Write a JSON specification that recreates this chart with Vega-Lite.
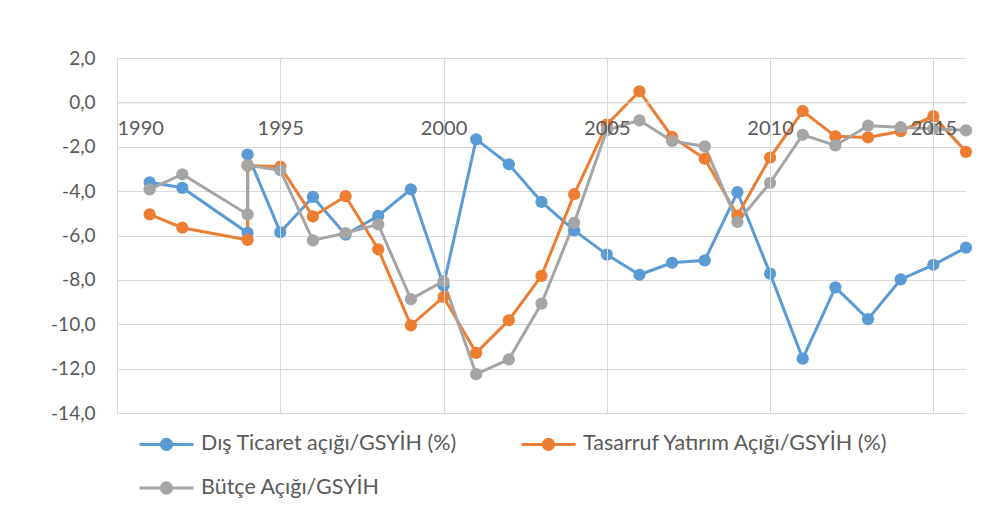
{
  "$schema": "https://vega.github.io/schema/vega-lite/v6.json",
  "width": 849,
  "height": 355,
  "autosize": "none",
  "padding": {"left": 117, "top": 58, "right": 29, "bottom": 109},
  "background": "white",
  "config": {
    "view": {"stroke": null},
    "font": "Lato",
    "locale": {"number": {"decimal": ",", "thousands": ".", "grouping": [3], "currency": ["", ""], "minus": "-"}}
  },
  "data": {
    "values": [
      {"year": 1991, "value": -3.6, "series": "Dış Ticaret açığı/GSYİH (%)"},
      {"year": 1992, "value": -3.85, "series": "Dış Ticaret açığı/GSYİH (%)"},
      {"year": 1994, "value": -5.88, "series": "Dış Ticaret açığı/GSYİH (%)"},
      {"year": 1994, "value": -2.35, "series": "Dış Ticaret açığı/GSYİH (%)"},
      {"year": 1995, "value": -5.85, "series": "Dış Ticaret açığı/GSYİH (%)"},
      {"year": 1996, "value": -4.26, "series": "Dış Ticaret açığı/GSYİH (%)"},
      {"year": 1997, "value": -5.96, "series": "Dış Ticaret açığı/GSYİH (%)"},
      {"year": 1998, "value": -5.12, "series": "Dış Ticaret açığı/GSYİH (%)"},
      {"year": 1999, "value": -3.92, "series": "Dış Ticaret açığı/GSYİH (%)"},
      {"year": 2000, "value": -8.25, "series": "Dış Ticaret açığı/GSYİH (%)"},
      {"year": 2001, "value": -1.67, "series": "Dış Ticaret açığı/GSYİH (%)"},
      {"year": 2002, "value": -2.79, "series": "Dış Ticaret açığı/GSYİH (%)"},
      {"year": 2003, "value": -4.49, "series": "Dış Ticaret açığı/GSYİH (%)"},
      {"year": 2004, "value": -5.77, "series": "Dış Ticaret açığı/GSYİH (%)"},
      {"year": 2005, "value": -6.86, "series": "Dış Ticaret açığı/GSYİH (%)"},
      {"year": 2006, "value": -7.77, "series": "Dış Ticaret açığı/GSYİH (%)"},
      {"year": 2007, "value": -7.23, "series": "Dış Ticaret açığı/GSYİH (%)"},
      {"year": 2008, "value": -7.12, "series": "Dış Ticaret açığı/GSYİH (%)"},
      {"year": 2009, "value": -4.05, "series": "Dış Ticaret açığı/GSYİH (%)"},
      {"year": 2010, "value": -7.72, "series": "Dış Ticaret açığı/GSYİH (%)"},
      {"year": 2011, "value": -11.55, "series": "Dış Ticaret açığı/GSYİH (%)"},
      {"year": 2012, "value": -8.34, "series": "Dış Ticaret açığı/GSYİH (%)"},
      {"year": 2013, "value": -9.77, "series": "Dış Ticaret açığı/GSYİH (%)"},
      {"year": 2014, "value": -7.98, "series": "Dış Ticaret açığı/GSYİH (%)"},
      {"year": 2015, "value": -7.32, "series": "Dış Ticaret açığı/GSYİH (%)"},
      {"year": 2016, "value": -6.55, "series": "Dış Ticaret açığı/GSYİH (%)"},
      {"year": 1991, "value": -5.05, "series": "Tasarruf Yatırım Açığı/GSYİH (%)"},
      {"year": 1992, "value": -5.65, "series": "Tasarruf Yatırım Açığı/GSYİH (%)"},
      {"year": 1994, "value": -6.2, "series": "Tasarruf Yatırım Açığı/GSYİH (%)"},
      {"year": 1994, "value": -2.85, "series": "Tasarruf Yatırım Açığı/GSYİH (%)"},
      {"year": 1995, "value": -2.9, "series": "Tasarruf Yatırım Açığı/GSYİH (%)"},
      {"year": 1996, "value": -5.14, "series": "Tasarruf Yatırım Açığı/GSYİH (%)"},
      {"year": 1997, "value": -4.23, "series": "Tasarruf Yatırım Açığı/GSYİH (%)"},
      {"year": 1998, "value": -6.62, "series": "Tasarruf Yatırım Açığı/GSYİH (%)"},
      {"year": 1999, "value": -10.05, "series": "Tasarruf Yatırım Açığı/GSYİH (%)"},
      {"year": 2000, "value": -8.77, "series": "Tasarruf Yatırım Açığı/GSYİH (%)"},
      {"year": 2001, "value": -11.29, "series": "Tasarruf Yatırım Açığı/GSYİH (%)"},
      {"year": 2002, "value": -9.82, "series": "Tasarruf Yatırım Açığı/GSYİH (%)"},
      {"year": 2003, "value": -7.82, "series": "Tasarruf Yatırım Açığı/GSYİH (%)"},
      {"year": 2004, "value": -4.14, "series": "Tasarruf Yatırım Açığı/GSYİH (%)"},
      {"year": 2005, "value": -1.0, "series": "Tasarruf Yatırım Açığı/GSYİH (%)"},
      {"year": 2006, "value": 0.5, "series": "Tasarruf Yatırım Açığı/GSYİH (%)"},
      {"year": 2007, "value": -1.56, "series": "Tasarruf Yatırım Açığı/GSYİH (%)"},
      {"year": 2008, "value": -2.54, "series": "Tasarruf Yatırım Açığı/GSYİH (%)"},
      {"year": 2009, "value": -5.1, "series": "Tasarruf Yatırım Açığı/GSYİH (%)"},
      {"year": 2010, "value": -2.49, "series": "Tasarruf Yatırım Açığı/GSYİH (%)"},
      {"year": 2011, "value": -0.39, "series": "Tasarruf Yatırım Açığı/GSYİH (%)"},
      {"year": 2012, "value": -1.53, "series": "Tasarruf Yatırım Açığı/GSYİH (%)"},
      {"year": 2013, "value": -1.58, "series": "Tasarruf Yatırım Açığı/GSYİH (%)"},
      {"year": 2014, "value": -1.3, "series": "Tasarruf Yatırım Açığı/GSYİH (%)"},
      {"year": 2015, "value": -0.62, "series": "Tasarruf Yatırım Açığı/GSYİH (%)"},
      {"year": 2016, "value": -2.23, "series": "Tasarruf Yatırım Açığı/GSYİH (%)"},
      {"year": 1991, "value": -3.92, "series": "Bütçe Açığı/GSYİH"},
      {"year": 1992, "value": -3.24, "series": "Bütçe Açığı/GSYİH"},
      {"year": 1994, "value": -5.05, "series": "Bütçe Açığı/GSYİH"},
      {"year": 1994, "value": -2.84, "series": "Bütçe Açığı/GSYİH"},
      {"year": 1995, "value": -3.06, "series": "Bütçe Açığı/GSYİH"},
      {"year": 1996, "value": -6.22, "series": "Bütçe Açığı/GSYİH"},
      {"year": 1997, "value": -5.89, "series": "Bütçe Açığı/GSYİH"},
      {"year": 1998, "value": -5.5, "series": "Bütçe Açığı/GSYİH"},
      {"year": 1999, "value": -8.87, "series": "Bütçe Açığı/GSYİH"},
      {"year": 2000, "value": -8.06, "series": "Bütçe Açığı/GSYİH"},
      {"year": 2001, "value": -12.25, "series": "Bütçe Açığı/GSYİH"},
      {"year": 2002, "value": -11.58, "series": "Bütçe Açığı/GSYİH"},
      {"year": 2003, "value": -9.07, "series": "Bütçe Açığı/GSYİH"},
      {"year": 2004, "value": -5.43, "series": "Bütçe Açığı/GSYİH"},
      {"year": 2005, "value": -1.25, "series": "Bütçe Açığı/GSYİH"},
      {"year": 2006, "value": -0.81, "series": "Bütçe Açığı/GSYİH"},
      {"year": 2007, "value": -1.74, "series": "Bütçe Açığı/GSYİH"},
      {"year": 2008, "value": -1.98, "series": "Bütçe Açığı/GSYİH"},
      {"year": 2009, "value": -5.39, "series": "Bütçe Açığı/GSYİH"},
      {"year": 2010, "value": -3.63, "series": "Bütçe Açığı/GSYİH"},
      {"year": 2011, "value": -1.46, "series": "Bütçe Açığı/GSYİH"},
      {"year": 2012, "value": -1.94, "series": "Bütçe Açığı/GSYİH"},
      {"year": 2013, "value": -1.05, "series": "Bütçe Açığı/GSYİH"},
      {"year": 2014, "value": -1.12, "series": "Bütçe Açığı/GSYİH"},
      {"year": 2015, "value": -1.2, "series": "Bütçe Açığı/GSYİH"},
      {"year": 2016, "value": -1.26, "series": "Bütçe Açığı/GSYİH"}
    ]
  },
  "encoding": {
    "x": {
      "field": "year",
      "type": "quantitative",
      "scale": {"domain": [1990, 2016], "nice": false, "zero": false},
      "axis": {
        "title": null,
        "orient": "bottom",
        "offset": -310.625,
        "values": [1990, 1995, 2000, 2005, 2010, 2015],
        "format": "d",
        "ticks": false,
        "tickSize": 0,
        "labelPadding": 16,
        "labelFontSize": 20,
        "labelColor": "#595959",
        "labelFont": "Lato",
        "domainColor": "#D9D9D9",
        "domainWidth": 1,
        "grid": true,
        "gridColor": "#D9D9D9",
        "gridWidth": 1,
        "zindex": 1
      }
    },
    "y": {
      "field": "value",
      "type": "quantitative",
      "scale": {"domain": [-14, 2], "nice": false, "zero": false},
      "axis": {
        "title": null,
        "values": [-14, -12, -10, -8, -6, -4, -2, 0, 2],
        "format": ".1f",
        "ticks": false,
        "tickSize": 0,
        "domain": false,
        "labelPadding": 22,
        "labelFontSize": 19,
        "labelColor": "#595959",
        "labelFont": "Lato",
        "grid": true,
        "gridColor": "#D9D9D9",
        "gridWidth": 1
      }
    },
    "color": {
      "field": "series",
      "type": "nominal",
      "sort": ["Dış Ticaret açığı/GSYİH (%)", "Tasarruf Yatırım Açığı/GSYİH (%)", "Bütçe Açığı/GSYİH"],
      "scale": {
        "domain": ["Dış Ticaret açığı/GSYİH (%)", "Tasarruf Yatırım Açığı/GSYİH (%)", "Bütçe Açığı/GSYİH"],
        "range": ["#5B9BD5", "#ED7D31", "#A5A5A5"]
      },
      "legend": {
        "title": null,
        "orient": "none",
        "legendX": 21,
        "legendY": 371,
        "direction": "horizontal",
        "columns": 2,
        "columnPadding": 58,
        "rowPadding": 17,
        "symbolType": "M-1,0L3,0M1.38,0A0.38,0.38,0,1,1,0.62,0A0.38,0.38,0,1,1,1.38,0Z",
        "symbolSize": 729,
        "symbolStrokeWidth": 3,
        "labelOffset": 33,
        "labelFontSize": 21.5,
        "labelFont": "Lato",
        "labelColor": "#595959",
        "labelLimit": 0,
        "encode": {
          "symbols": {
            "update": {
              "fill": {"scale": "color", "field": "value"},
              "stroke": {"scale": "color", "field": "value"},
              "opacity": {"value": 1}
            }
          }
        }
      }
    }
  },
  "layer": [
    {
      "mark": {"type": "line", "strokeWidth": 3},
      "encoding": {"order": {"value": null}}
    },
    {
      "mark": {"type": "point", "filled": true, "size": 150, "opacity": 1}
    }
  ]
}
